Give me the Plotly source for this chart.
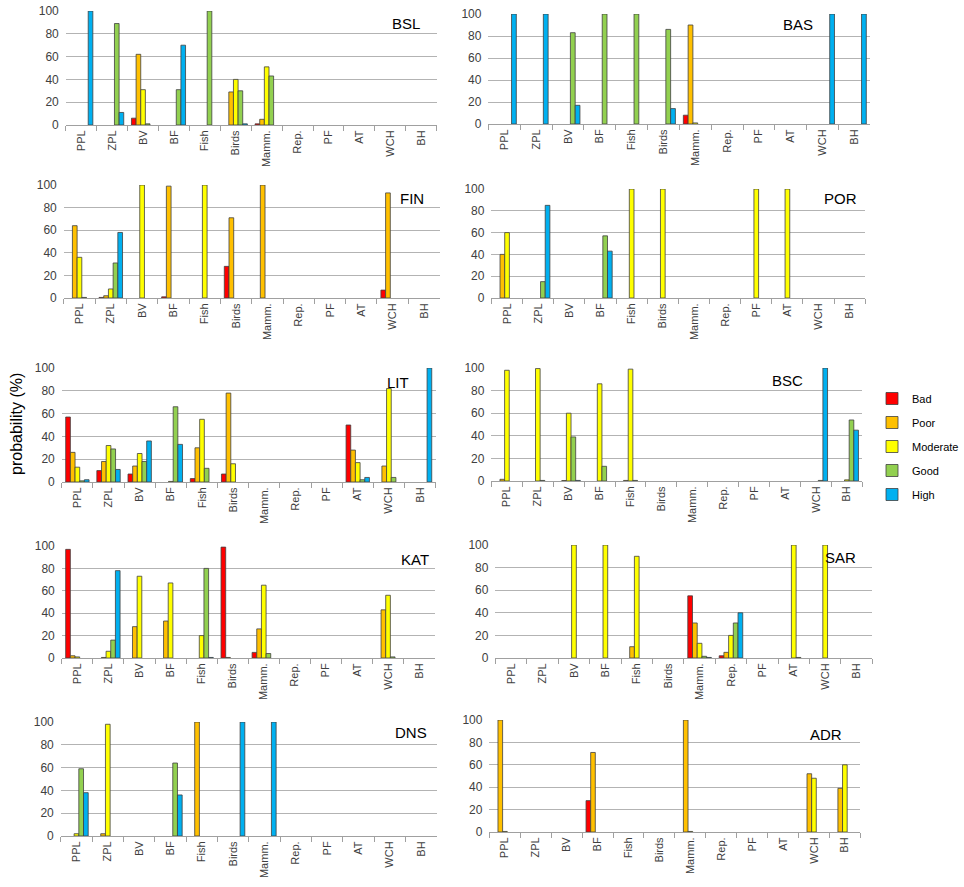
import plotly.graph_objects as go

categories = ["PPL", "ZPL", "BV", "BF", "Fish", "Birds", "Mamm.", "Rep.", "PF", "AT", "WCH", "BH"]
series_names = ["Bad", "Poor", "Moderate", "Good", "High"]
series_colors = ["#ff0000", "#ffc000", "#ffff00", "#92d050", "#00b0f0"]
y_ticks = [0, 20, 40, 60, 80, 100]
N = None

# Each region: rows = Bad, Poor, Moderate, Good, High ; columns = categories
BSL = [
    [N, N, 6, N, N, N, 1, N, N, N, N, N],
    [N, N, 62, N, N, 29, 5, N, N, N, N, N],
    [N, N, 31, N, N, 40, 51, N, N, N, N, N],
    [N, 89, 1, 31, 100, 30, 43, N, N, N, N, N],
    [100, 11, N, 70, N, 1, N, N, N, N, N, N],
]
BAS = [
    [N, N, N, N, N, N, 8, N, N, N, N, N],
    [N, N, N, N, N, N, 90, N, N, N, N, N],
    [N, N, N, N, N, N, 1, N, N, N, N, N],
    [N, N, 83, 100, 100, 86, N, N, N, N, N, N],
    [100, 100, 17, N, N, 14, N, N, N, N, 100, 100],
]
FIN = [
    [N, 0.5, N, 1, N, 28, N, N, N, N, 7, N],
    [64, 2, N, 99, N, 71, 100, N, N, N, 93, N],
    [36, 8, 100, N, 100, N, N, N, N, N, N, N],
    [0.5, 31, N, N, N, N, N, N, N, N, N, N],
    [N, 58, N, N, N, N, N, N, N, N, N, N],
]
POR = [
    [N, N, N, N, N, N, N, N, N, N, N, N],
    [40, N, N, N, N, N, N, N, N, N, N, N],
    [60, N, N, N, 100, 100, N, N, 100, 100, N, N],
    [N, 15, N, 57, N, N, N, N, N, N, N, N],
    [N, 85, N, 43, N, N, N, N, N, N, N, N],
]
LIT = [
    [57, 10, 7, N, 3, 7, N, N, N, 50, N, N],
    [26, 18, 14, N, 30, 78, N, N, N, 28, 14, N],
    [13, 32, 25, 0.5, 55, 16, N, N, N, 17, 82, N],
    [1, 29, 18, 66, 12, N, N, N, N, 2, 4, N],
    [2, 11, 36, 33, N, N, N, N, N, 4, N, 100],
]
BSC = [
    [N, N, N, N, N, N, N, N, N, N, N, N],
    [1.5, N, 0.4, N, 0.5, N, N, N, N, N, N, N],
    [98, 99.5, 60, 86, 99, N, N, N, N, N, N, 1],
    [N, 0.5, 39, 13, 0.5, N, N, N, N, N, 0.5, 54],
    [N, N, 0.5, N, N, N, N, N, N, N, 100, 45],
]
KAT = [
    [97, N, N, N, N, 99, 5, N, N, N, N, N],
    [2, 0.5, 28, 33, N, 0.5, 26, N, N, N, 43, N],
    [1, 6, 73, 67, 20, N, 65, N, N, N, 56, N],
    [N, 16, N, N, 80, N, 4, N, N, N, 1, N],
    [N, 78, N, N, 0.5, N, N, N, N, N, N, N],
]
SAR = [
    [N, N, N, N, N, N, 55, 2, N, N, N, N],
    [N, N, N, N, 10, N, 31, 5, N, N, N, N],
    [N, N, 100, 100, 90, N, 13, 20, N, 100, 100, N],
    [N, N, N, N, N, N, 1.5, 31, N, 0.5, N, N],
    [N, N, N, N, N, N, 0.5, 40, N, N, N, N],
]
DNS = [
    [N, N, N, N, N, N, N, N, N, N, N, N],
    [N, 2, N, N, 100, N, N, N, N, N, N, N],
    [2, 98, N, N, N, N, N, N, N, N, N, N],
    [59, N, N, 64, N, N, N, N, N, N, N, N],
    [38, N, N, 36, N, 100, 100, N, N, N, N, N],
]
ADR = [
    [N, N, N, 28, N, N, N, N, N, N, N, N],
    [100, N, N, 71, N, N, 100, N, N, N, 52, 39],
    [0.5, N, N, N, N, N, 0.5, N, N, N, 48, 60],
    [N, N, N, N, N, N, N, N, N, N, N, N],
    [N, N, N, N, N, N, N, N, N, N, N, N],
]

region_names = ["BSL", "BAS", "FIN", "POR", "LIT", "BSC", "KAT", "SAR", "DNS", "ADR"]
region_data = [BSL, BAS, FIN, POR, LIT, BSC, KAT, SAR, DNS, ADR]

# ---- layout: page pixel boxes (x0, x1, y_top, y_bottom) ----
W, H = 964, 887


def px(x):
    return x / W


def py(y):
    return 1 - y / H


boxes = [
    (66, 438, 11, 125), (490, 873, 14, 124),
    (64, 441, 185, 298), (493, 868, 189, 298),
    (62, 437, 368, 482), (493, 865, 368, 481),
    (62, 436, 546, 658), (497, 875, 545, 658),
    (61, 438, 722, 836), (491, 863, 720, 832),
]
label_pos = [
    (423, 23), (818, 24), (427, 198), (862, 199), (412, 382),
    (808, 381), (432, 559), (861, 557), (430, 732), (847, 734),
]

FONT = "Liberation Sans"
GRID = "#b3b3b3"
fig = go.Figure()
layout = {}
annotations = []

for i, (name, data) in enumerate(zip(region_names, region_data)):
    k = "" if i == 0 else str(i + 1)
    for s, (sname, color) in enumerate(zip(series_names, series_colors)):
        fig.add_trace(go.Bar(
            x=categories, y=data[s], name=sname,
            marker=dict(color=color, line=dict(color="#404040", width=0.8)),
            xaxis="x" + k, yaxis="y" + k,
            legendgroup=sname, showlegend=(i == 0),
        ))
    x0, x1, yt, yb = boxes[i]
    layout["xaxis" + k] = dict(
        domain=[px(x0), px(x1)], anchor="y" + k, type="category",
        categoryorder="array", categoryarray=categories,
        tickangle=-90, tickfont=dict(family=FONT, size=11, color="#404040"),
        showline=True, linecolor="#a0a0a0", linewidth=1,
        ticks="outside", tickson="boundaries", ticklen=5, tickcolor="#a0a0a0",
        showgrid=False, fixedrange=True, automargin=False,
    )
    layout["yaxis" + k] = dict(
        domain=[py(yb), py(yt)], anchor="x" + k,
        range=[0, 100], tickvals=y_ticks,
        tickfont=dict(family=FONT, size=12, color="#404040"),
        showgrid=True, gridcolor=GRID, gridwidth=1, zeroline=False,
        showline=False, ticks="", fixedrange=True, automargin=False,
        ticklabelstandoff=6, ticklabeloverflow="allow",
    )
    lx, ly = label_pos[i]
    annotations.append(dict(
        text=name, x=px(lx), y=py(ly), xref="paper", yref="paper",
        xanchor="right", yanchor="middle", showarrow=False,
        font=dict(family=FONT, size=15, color="#000000"),
    ))

annotations.append(dict(
    text="probability (%)", x=px(17), y=py(424), xref="paper", yref="paper",
    xanchor="center", yanchor="middle", textangle=-90, showarrow=False,
    font=dict(family=FONT, size=16, color="#000000"),
))

fig.update_layout(
    **layout,
    annotations=annotations,
    barmode="group", bargap=0.25, bargroupgap=0,
    width=W, height=H,
    margin=dict(l=0, r=0, t=0, b=0),
    paper_bgcolor="white", plot_bgcolor="white",
    legend=dict(
        x=px(875), y=py(384), xanchor="left", yanchor="top",
        font=dict(family=FONT, size=11, color="#000000"),
        tracegroupgap=5, itemwidth=30, bgcolor="rgba(0,0,0,0)",
    ),
    showlegend=True,
)

fig.write_html(
    "out.html",
    config={"displayModeBar": False},
    post_script="document.body.style.margin='0';document.body.style.overflow='hidden';",
)
